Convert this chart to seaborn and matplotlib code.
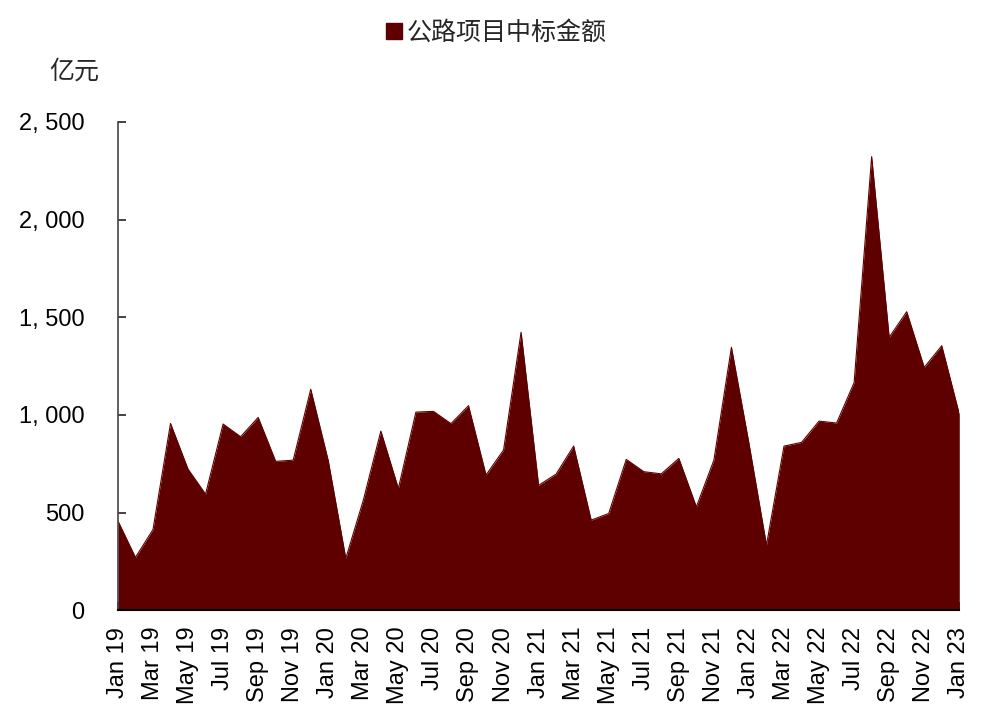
import numpy as np
import pandas as pd
import matplotlib
matplotlib.use("Agg")
import matplotlib.pyplot as plt
from matplotlib.lines import Line2D
import seaborn as sns

# 月度数据 2019-01 ~ 2023-01（亿元）
months = pd.date_range("2019-01-01", "2023-01-01", freq="MS")
values = [457, 270, 413, 956, 722, 594, 953, 888, 987, 762, 768, 1131,
          765, 265, 563, 917, 623, 1014, 1018, 955, 1047, 692, 820, 1423,
          639, 697, 840, 461, 495, 772, 709, 698, 777, 529, 768, 1346,
          854, 333, 840, 859, 968, 958, 1165, 2322, 1397, 1528, 1243, 1354,
          1004]
y_ticks = [0, 500, 1000, 1500, 2000, 2500]
y_labels = ["0", "500", "1, 000", "1, 500", "2, 000", "2, 500"]
series_name = "公路项目中标金额"
unit = "亿元"
COLOR = "#5e0000"

df = pd.DataFrame({"idx": np.arange(len(months)), "value": values,
                   "label": [d.strftime("%b %y") for d in months]})

sns.set_style("ticks")
plt.rcParams['font.family'] = ['Liberation Sans', 'Noto Sans CJK SC', 'DejaVu Sans']

fig = plt.figure(figsize=(9.91, 7.17), dpi=100)
ax = fig.add_axes([0.119, 0.149, 0.849, 0.681])

sns.lineplot(data=df, x="idx", y="value", color=COLOR, linewidth=0.8, ax=ax)
ax.fill_between(df["idx"], 0, df["value"], color=COLOR, linewidth=0)

ax.set_xlim(0, len(months) - 1)
ax.set_ylim(0, 2500)
ax.set_xlabel("")
ax.set_ylabel("")

# 每两个月一个刻度
ax.set_xticks(df["idx"][::2])
ax.set_xticklabels(df["label"][::2], rotation=90, fontsize=17)
ax.set_yticks(y_ticks)
ax.set_yticklabels(y_labels, fontsize=17)
ax.tick_params(axis="both", direction="in", length=6, width=1.2, colors="#222222", labelcolor="black")
ax.tick_params(axis="y", pad=24)
ax.tick_params(axis="x", pad=12)

sns.despine(ax=ax)
ax.spines["left"].set_color("#444444")
ax.spines["left"].set_linewidth(1.2)
ax.spines["bottom"].set_color("black")
ax.spines["bottom"].set_linewidth(1.5)

handle = Line2D([], [], marker="s", linestyle="none", color=COLOR, markersize=11)
fig.legend([handle], [series_name], loc="center", bbox_to_anchor=(0.5, 0.955),
           frameon=False, handletextpad=0.1, handlelength=0.8,
           prop={"family": ["Noto Sans CJK SC"], "size": 18})
fig.text(0.05, 0.90, unit, fontsize=18, family=["Noto Sans CJK SC"], va="center")

fig.savefig("out.png", dpi=100)
